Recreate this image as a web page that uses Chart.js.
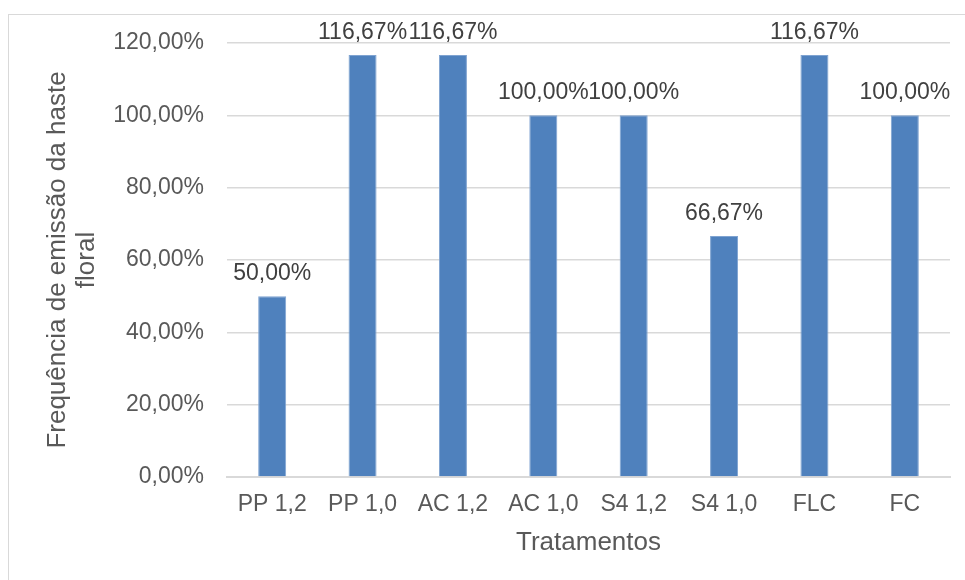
<!DOCTYPE html>
<html>
<head>
<meta charset="utf-8">
<script src="https://cdn.jsdelivr.net/npm/chart.js@4"></script>
<style>
  body { margin: 0; background: #fff; }
  #wrap { position: relative; width: 965px; height: 580px; overflow: hidden; }
  #frame { position: absolute; left: 8px; top: 14px; width: 990px; height: 600px; border: 1px solid #d9d9d9; }
  #chart { position: absolute; left: 0; top: 0; }
</style>
</head>
<body>
<div id="wrap">
  <div id="frame"></div>
  <canvas id="chart" width="965" height="580"></canvas>
</div>
<script>
// Treatments and emission frequency (%)
var categories = ['PP 1,2', 'PP 1,0', 'AC 1,2', 'AC 1,0', 'S4 1,2', 'S4 1,0', 'FLC', 'FC'];
var frequencia = [50, 116.67, 116.67, 100, 100, 66.67, 116.67, 100];
var yTicks = [0, 20, 40, 60, 80, 100, 120];

var fontFamily = '"Liberation Sans", Arial, sans-serif';

function pct(v) {
    return v.toFixed(2).replace('.', ',') + '%';
}

// Draw value labels above each bar
var barLabels = {
    id: 'barLabels',
    afterDatasetsDraw: function(chart) {
        var ctx = chart.ctx;
        ctx.save();
        ctx.font = '23px ' + fontFamily;
        ctx.fillStyle = '#404040';
        ctx.textAlign = 'center';
        ctx.textBaseline = 'alphabetic';
        chart.getDatasetMeta(0).data.forEach(function(bar, i) {
            ctx.fillText(pct(frequencia[i]), bar.x, bar.y - 16);
        });
        ctx.restore();
    }
};

var ctx = document.getElementById('chart').getContext('2d');
var chart = new Chart(ctx, {
    type: 'bar',
    data: {
        labels: categories,
        datasets: [{
            data: frequencia,
            backgroundColor: '#4f81bd',
            borderColor: '#7fa3d1',
            borderWidth: 1,
            barPercentage: 0.31,
            categoryPercentage: 1
        }]
    },
    options: {
        responsive: false,
        animation: false,
        layout: { padding: { top: 43, right: 15, bottom: 0, left: 0 } },
        plugins: {
            legend: { display: false },
            tooltip: { enabled: false }
        },
        scales: {
            x: {
                grid: { display: false, drawTicks: false },
                border: { display: true, color: '#d9d9d9', width: 2 },
                ticks: {
                    padding: 14,
                    color: '#595959',
                    font: { family: fontFamily, size: 23 },
                    maxRotation: 0,
                    autoSkip: false
                },
                title: {
                    display: true,
                    text: 'Tratamentos',
                    color: '#595959',
                    font: { family: fontFamily, size: 26, lineHeight: 1.1 },
                    padding: { top: 0, bottom: 23 }
                },
                afterFit: function(scale) { scale.height = 103; }
            },
            y: {
                min: 0,
                max: 120,
                afterBuildTicks: function(scale) {
                    scale.ticks = yTicks.map(function(v) { return { value: v }; });
                },
                grid: { color: '#d9d9d9', lineWidth: 1.5, drawTicks: false },
                border: { display: false },
                ticks: {
                    padding: 23,
                    color: '#595959',
                    font: { family: fontFamily, size: 23 },
                    callback: function(v) { return pct(v); }
                },
                title: {
                    display: true,
                    text: ['Frequência de emissão da haste', 'floral'],
                    color: '#595959',
                    font: { family: fontFamily, size: 26, lineHeight: 1.1 },
                    padding: { top: 44, bottom: 0 }
                },
                afterFit: function(scale) { scale.width = 227; }
            }
        }
    },
    plugins: [barLabels]
});
</script>
</body>
</html>
